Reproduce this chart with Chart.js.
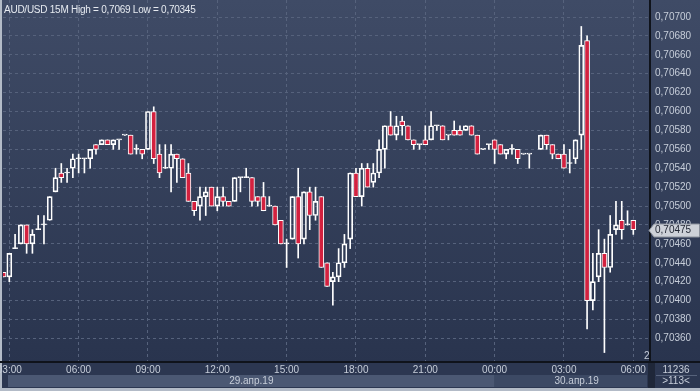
<!DOCTYPE html>
<html>
<head>
<meta charset="utf-8">
<script src="https://cdn.jsdelivr.net/npm/chart.js"></script>
<style>
  html, body { margin: 0; padding: 0; background: #2b3650; }
  #wrap { width: 700px; height: 391px; position: relative; }
</style>
</head>
<body>
<div id="wrap"><canvas id="candles"></canvas></div>
<script>
// AUD/USD 15M, 29.04.19 02:45 -> 30.04.19 06:00 (slot 0 = 03:00)
const firstSlot = -1;
const openPrices = [
  0.70430, 0.70425, 0.70455, 0.70460, 0.70480, 0.70460, 0.70475, 0.70480, 0.70485, 0.70515,
  0.70535, 0.70535, 0.70540, 0.70550, 0.70550, 0.70550, 0.70565, 0.70565, 0.70570, 0.70565,
  0.70570, 0.70575, 0.70575, 0.70560, 0.70560, 0.70560, 0.70600, 0.70555, 0.70540, 0.70540,
  0.70555, 0.70550, 0.70535, 0.70505, 0.70500, 0.70510, 0.70520, 0.70500, 0.70510, 0.70505,
  0.70505, 0.70530, 0.70530, 0.70530, 0.70510, 0.70510, 0.70500, 0.70500, 0.70485, 0.70460,
  0.70465, 0.70510, 0.70465, 0.70515, 0.70490, 0.70510, 0.70440, 0.70420, 0.70425, 0.70440,
  0.70465, 0.70535, 0.70510, 0.70540, 0.70525, 0.70535, 0.70560, 0.70585, 0.70575, 0.70590,
  0.70585, 0.70570, 0.70565, 0.70570, 0.70570, 0.70585, 0.70585, 0.70575, 0.70580, 0.70580,
  0.70580, 0.70585, 0.70575, 0.70560, 0.70565, 0.70570, 0.70565, 0.70555, 0.70560, 0.70560,
  0.70555, 0.70555, null,    0.70560, 0.70575, 0.70565, 0.70555, 0.70555, 0.70545, 0.70550,
  0.70575, 0.70675, 0.70400, 0.70425, 0.70450, 0.70435, 0.70475, 0.70485, 0.70480, 0.70485
];
const highPrices = [
  0.70430, 0.70450, 0.70470, 0.70480, 0.70480, 0.70475, 0.70490, 0.70490, 0.70510, 0.70540,
  0.70545, 0.70540, 0.70555, 0.70555, 0.70550, 0.70560, 0.70565, 0.70570, 0.70570, 0.70570,
  0.70570, 0.70575, 0.70575, 0.70565, 0.70560, 0.70600, 0.70605, 0.70565, 0.70565, 0.70565,
  0.70555, 0.70550, 0.70545, 0.70505, 0.70520, 0.70520, 0.70520, 0.70520, 0.70520, 0.70505,
  0.70530, 0.70530, 0.70540, 0.70530, 0.70510, 0.70525, 0.70510, 0.70500, 0.70485, 0.70465,
  0.70510, 0.70540, 0.70515, 0.70520, 0.70520, 0.70510, 0.70440, 0.70430, 0.70455, 0.70470,
  0.70535, 0.70540, 0.70545, 0.70545, 0.70545, 0.70570, 0.70585, 0.70600, 0.70595, 0.70595,
  0.70585, 0.70570, 0.70565, 0.70585, 0.70600, 0.70585, 0.70585, 0.70575, 0.70590, 0.70585,
  0.70585, 0.70585, 0.70575, 0.70560, 0.70565, 0.70570, 0.70565, 0.70560, 0.70565, 0.70560,
  0.70555, 0.70555, null,    0.70575, 0.70575, 0.70565, 0.70555, 0.70565, 0.70560, 0.70570,
  0.70690, 0.70680, 0.70450, 0.70475, 0.70465, 0.70490, 0.70505, 0.70505, 0.70495, 0.70485
];
const lowPrices = [
  0.70425, 0.70420, 0.70455, 0.70460, 0.70450, 0.70450, 0.70475, 0.70460, 0.70485, 0.70515,
  0.70525, 0.70525, 0.70530, 0.70535, 0.70535, 0.70540, 0.70555, 0.70565, 0.70565, 0.70560,
  0.70560, 0.70575, 0.70555, 0.70555, 0.70550, 0.70560, 0.70545, 0.70530, 0.70540, 0.70515,
  0.70525, 0.70530, 0.70505, 0.70490, 0.70485, 0.70490, 0.70500, 0.70495, 0.70500, 0.70500,
  0.70505, 0.70515, 0.70530, 0.70500, 0.70500, 0.70495, 0.70500, 0.70480, 0.70460, 0.70435,
  0.70465, 0.70445, 0.70460, 0.70475, 0.70485, 0.70435, 0.70415, 0.70395, 0.70420, 0.70435,
  0.70455, 0.70510, 0.70500, 0.70520, 0.70520, 0.70530, 0.70540, 0.70575, 0.70570, 0.70575,
  0.70570, 0.70560, 0.70560, 0.70565, 0.70570, 0.70580, 0.70570, 0.70570, 0.70575, 0.70575,
  0.70580, 0.70575, 0.70555, 0.70560, 0.70560, 0.70545, 0.70555, 0.70550, 0.70555, 0.70545,
  0.70555, 0.70540, null,    0.70560, 0.70560, 0.70550, 0.70550, 0.70540, 0.70535, 0.70545,
  0.70560, 0.70370, 0.70390, 0.70420, 0.70345, 0.70430, 0.70470, 0.70465, 0.70480, 0.70470
];
const closePrices = [
  0.70425, 0.70450, 0.70455, 0.70480, 0.70460, 0.70470, 0.70475, 0.70480, 0.70510, 0.70530,
  0.70530, 0.70535, 0.70550, 0.70550, 0.70550, 0.70560, 0.70560, 0.70570, 0.70565, 0.70570,
  0.70570, 0.70575, 0.70555, 0.70560, 0.70555, 0.70600, 0.70550, 0.70535, 0.70540, 0.70555,
  0.70550, 0.70530, 0.70505, 0.70495, 0.70510, 0.70515, 0.70500, 0.70510, 0.70505, 0.70500,
  0.70530, 0.70530, 0.70530, 0.70505, 0.70505, 0.70495, 0.70500, 0.70480, 0.70460, 0.70460,
  0.70510, 0.70460, 0.70515, 0.70490, 0.70505, 0.70435, 0.70415, 0.70425, 0.70440, 0.70460,
  0.70535, 0.70510, 0.70540, 0.70520, 0.70535, 0.70560, 0.70585, 0.70575, 0.70585, 0.70585,
  0.70570, 0.70565, 0.70565, 0.70565, 0.70585, 0.70585, 0.70570, 0.70575, 0.70575, 0.70575,
  0.70585, 0.70575, 0.70555, 0.70560, 0.70565, 0.70560, 0.70555, 0.70560, 0.70560, 0.70550,
  0.70555, 0.70555, null,    0.70575, 0.70565, 0.70555, 0.70550, 0.70540, 0.70545, 0.70570,
  0.70670, 0.70400, 0.70420, 0.70450, 0.70435, 0.70470, 0.70480, 0.70475, 0.70480, 0.70475
];

const tickSlots = [0, 12, 24, 36, 48, 60, 72, 84, 96, 108];
const tickLabels = ['03:00', '06:00', '09:00', '12:00', '15:00', '18:00', '21:00', '00:00', '03:00', '06:00'];
const priceTicks = [0.7036, 0.7038, 0.7040, 0.7042, 0.7044, 0.7046, 0.7048, 0.7050, 0.7052,
                    0.7054, 0.7056, 0.7058, 0.7060, 0.7062, 0.7064, 0.7066, 0.7068, 0.7070];
const dateLabels = ['29.апр.19', '30.апр.19'];
const dayBreakSlot = 84;
const titleText = 'AUD/USD 15M High = 0,7069 Low = 0,70345';

const FONT = '"Liberation Sans", Arial, sans-serif';
const RED = '#d3213f';
const fmt = v => v.toFixed(5).replace('.', ',');

// build floating bars for bodies and wicks
const bodies = [], upperWicks = [], lowerWicks = [], bodyColors = [];
openPrices.forEach((o, i) => {
  if (o === null) return;
  const c = closePrices[i], x = firstSlot + i;
  bodies.push({ x, y: [o, c] });
  bodyColors.push(c < o ? RED : 'rgba(0,0,0,0)');
  upperWicks.push({ x, y: [Math.max(o, c), highPrices[i]] });
  lowerWicks.push({ x, y: [lowPrices[i], Math.min(o, c)] });
});

const terminalLook = {
  id: 'terminalLook',
  beforeDraw(chart) {
    const { ctx, width, height, chartArea: a } = chart;
    const xs = chart.scales.x;
    ctx.save();
    const g = ctx.createLinearGradient(0, 0, 0, a.bottom);
    g.addColorStop(0, '#3f4b66');
    g.addColorStop(1, '#29344e');
    ctx.fillStyle = g;
    ctx.fillRect(0, 0, width, a.bottom);
    ctx.fillStyle = '#2c3751';
    ctx.fillRect(0, a.bottom, width, height - a.bottom);
    // date band
    const split = xs.getPixelForValue(dayBreakSlot);
    ctx.fillStyle = '#4b5873';
    ctx.fillRect(8, a.bottom + 13, split - 8, 12);
    ctx.fillStyle = '#3c4964';
    ctx.fillRect(split, a.bottom + 13, a.right - 3 - split, 12);
    ctx.fillStyle = '#1f2739';
    ctx.fillRect(a.right - 2, a.bottom, 7, height - a.bottom);
    // frame
    ctx.fillStyle = '#b3bbc7';
    ctx.fillRect(0, 0, 2, height);
    ctx.fillRect(0, height - 3, width, 3);
    ctx.restore();
  },
  afterDraw(chart) {
    const { ctx, width, chartArea: a } = chart;
    const xs = chart.scales.x, ys = chart.scales.y;
    ctx.save();
    // axis lines
    ctx.fillStyle = '#0f131b';
    ctx.fillRect(0, a.bottom - 1, width, 2);
    ctx.fillRect(a.right - 1, 0, 2, a.bottom);
    ctx.font = '10px ' + FONT;
    ctx.textBaseline = 'middle';
    ctx.fillStyle = '#c6cdd9';
    ctx.textAlign = 'center';
    tickSlots.forEach((s, i) => ctx.fillText(tickLabels[i], xs.getPixelForValue(s), a.bottom + 8));
    const split = xs.getPixelForValue(dayBreakSlot);
    ctx.fillText(dateLabels[0], (8 + split) / 2, a.bottom + 19);
    ctx.fillText(dateLabels[1], split + 82, a.bottom + 19);
    // right bottom box
    ctx.fillText('11236', 676, a.bottom + 8);
    ctx.fillText('>113<', 676, a.bottom + 19);
    ctx.fillStyle = '#56627b';
    ctx.fillRect(656, a.bottom + 13, 41, 1);
    // title
    ctx.textAlign = 'left';
    ctx.textBaseline = 'alphabetic';
    ctx.fillStyle = '#e6eaf0';
    ctx.letterSpacing = '-0.25px';
    ctx.fillText(titleText, 4, 13);
    ctx.letterSpacing = '0px';
    ctx.fillStyle = '#c6cdd9';
    ctx.fillText('2', 644, 359);
    // last price tag
    const last = closePrices[closePrices.length - 1];
    const py = Math.round(ys.getPixelForValue(last)) + 0.5;
    ctx.beginPath();
    ctx.moveTo(649, py);
    ctx.lineTo(654, py - 6.5);
    ctx.lineTo(699.5, py - 6.5);
    ctx.lineTo(699.5, py + 6.5);
    ctx.lineTo(654, py + 6.5);
    ctx.closePath();
    ctx.fillStyle = '#cdd1d8';
    ctx.fill();
    ctx.strokeStyle = '#8b919c';
    ctx.lineWidth = 1;
    ctx.stroke();
    ctx.fillStyle = '#1e2330';
    ctx.textBaseline = 'middle';
    ctx.fillText(fmt(last), 655, py);
    ctx.restore();
  }
};

new Chart(document.getElementById('candles').getContext('2d'), {
  type: 'bar',
  data: {
    datasets: [
      { label: 'body', data: bodies, order: 0, grouped: false, barThickness: 5, minBarLength: 1,
        backgroundColor: bodyColors, borderColor: '#ffffff', borderWidth: 1, borderSkipped: false },
      { label: 'upper', data: upperWicks, order: 1, grouped: false, barThickness: 1,
        backgroundColor: '#ffffff', borderWidth: 0 },
      { label: 'lower', data: lowerWicks, order: 1, grouped: false, barThickness: 1,
        backgroundColor: '#ffffff', borderWidth: 0 }
    ]
  },
  options: {
    responsive: true,
    maintainAspectRatio: false,
    animation: false,
    layout: { padding: { left: 3, top: 0, right: 0, bottom: 0 } },
    plugins: { legend: { display: false }, tooltip: { enabled: false } },
    scales: {
      x: {
        type: 'linear',
        offset: false,
        min: -1.09,
        max: 110.89,
        afterBuildTicks: s => { s.ticks = tickSlots.map(v => ({ value: v })); },
        afterFit: s => { s.height = 29; s.paddingLeft = 0; s.paddingRight = 0; },
        ticks: { display: false },
        grid: { color: '#56627c', drawTicks: false, offset: false },
        border: { display: false, dash: [3, 3] }
      },
      y: {
        position: 'right',
        min: 0.70335,
        max: 0.70718,
        afterBuildTicks: s => { s.ticks = priceTicks.map(v => ({ value: v })); },
        afterFit: s => { s.width = 50; s.paddingTop = 0; s.paddingBottom = 0; },
        ticks: { color: '#c6cdd9', padding: 5, font: { family: FONT, size: 10 }, callback: v => fmt(v) },
        grid: { color: '#56627c', drawTicks: false },
        border: { display: false, dash: [3, 3] }
      }
    }
  },
  plugins: [terminalLook]
});
</script>
</body>
</html>
